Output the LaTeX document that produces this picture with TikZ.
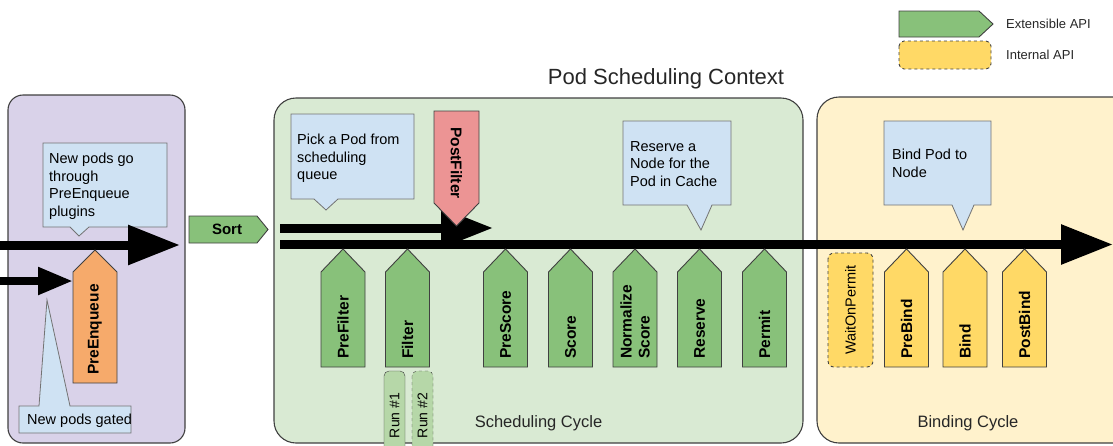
\documentclass[tikz,border=0pt]{standalone}
\usepackage{fontspec}
\setmainfont{Liberation Sans}
\usetikzlibrary{arrows.meta}
\definecolor{purplebg}{HTML}{D9D2E9}
\definecolor{greenbg}{HTML}{D9EAD3}
\definecolor{yellowbg}{HTML}{FFF2CC}
\definecolor{extgreen}{HTML}{88C17A}
\definecolor{intyellow}{HTML}{FFD966}
\definecolor{notebg}{HTML}{CFE2F3}
\definecolor{enqorange}{HTML}{F6AA6B}
\definecolor{postred}{HTML}{EC9494}
\definecolor{rungreen}{HTML}{B6D7A8}
\definecolor{edge}{HTML}{404040}

\begin{document}
\begin{tikzpicture}[x=1pt,y=-1pt,
    flow/.style={line width=9pt,-{Triangle[length=52pt,width=38pt]}},%
    smallflow/.style={line width=8pt,-{Triangle[length=35pt,width=26pt]}},%
    stage/.style={draw=edge,line width=1.1pt,rounded corners=22pt},%
    ext/.style={draw=edge,fill=extgreen,line width=0.9pt},%
    int/.style={draw=edge,fill=intyellow,line width=0.9pt},%
    callout/.style={draw=black!55,fill=notebg,line width=0.8pt},%
    note/.style={inner sep=0pt,align=left,anchor=north west,
      font=\fontsize{14.5}{17.5}\selectfont},%
    plug/.style={inner sep=0pt,rotate=90,anchor=west,align=left,
      font=\fontsize{15.5}{18}\selectfont\bfseries},%
    cycle/.style={font=\fontsize{16.5}{19}\selectfont,text=black!85}%
  ]
  \clip (0,0) rectangle (1113,445);
  \useasboundingbox (0,0) rectangle (1113,445);
  %% stages
  \draw[stage,fill=purplebg,rounded corners=15pt] (8,95) rectangle (185,443);
  \draw[stage,fill=greenbg] (274,98) rectangle (803,443);
  \draw[stage,fill=yellowbg] (817,97) rectangle (1140,443);
  \node[font=\fontsize{22}{26}\selectfont,text=black!85] (title) at (666,79)
  {Pod Scheduling Context};
  %% legend
  \draw[ext] (899,11) -- (979,11) -- (993,24) -- (979,37) -- (899,37) -- cycle;
  \draw[int,dashed,rounded corners=5pt] (899,41) rectangle (991,69);
  \node[anchor=west,inner sep=0pt,font=\fontsize{13}{15}\selectfont,text=black!85]
  (extapi) at (1006,24) {Extensible API};
  \node[anchor=west,inner sep=0pt,font=\fontsize{13}{15}\selectfont,text=black!85]
  (intapi) at (1006,55) {Internal API};
  %% callouts
  \draw[callout] (43,143) -- (167,143) -- (167,227) -- (89,227) -- (79,236)
  -- (70,227) -- (43,227) -- cycle;
  \node[note] (enqnote) at (49,153) {New pods go\\through\\PreEnqueue\\plugins};
  \draw[callout] (19,406) -- (39,406) -- (47,300) -- (70,406) -- (131,406)
  -- (131,433) -- (19,433) -- cycle;
  \node[note] (gatenote) at (27,414) {New pods gated};
  \draw[callout] (291,114) -- (414,114) -- (414,199) -- (338,199) -- (326,210)
  -- (314,199) -- (291,199) -- cycle;
  \node[note] (picknote) at (297,134) {Pick a Pod from\\scheduling\\queue};
  \draw[callout] (623,121) -- (731,121) -- (731,205) -- (712,205) -- (701,230)
  -- (687,205) -- (623,205) -- cycle;
  \node[note] (resnote) at (630,141) {Reserve a\\Node for the\\Pod in Cache};
  \draw[callout] (884,121) -- (991,121) -- (991,205) -- (974,205) -- (963,230)
  -- (952,205) -- (884,205) -- cycle;
  \node[note] (bindnote) at (892,149) {Bind Pod to\\Node};
  %% flows
  \coordinate (inA) at (0,245);
  \coordinate (inB) at (180,245);
  \coordinate (gateA) at (0,281);
  \coordinate (gateB) at (73,281);
  \coordinate (retryA) at (280,228);
  \coordinate (retryB) at (493,228);
  \coordinate (mainA) at (280,244.5);
  \coordinate (mainB) at (1113,244.5);
  \draw[flow] (inA) -- (inB);
  \draw[smallflow] (gateA) -- (gateB);
  \draw[flow] (retryA) -- (retryB);
  \draw[flow] (mainA) -- (mainB);
  %% PreEnqueue and Sort
  \draw[ext,fill=enqorange] (73,383) -- (73,272) -- (95,250) -- (117,272)
  -- (117,383) -- cycle;
  \node[plug] (preenq) at (95,375) {PreEnqueue};
  \draw[ext] (189,216) -- (257,216) -- (268,229.5) -- (257,243) -- (189,243)
  -- cycle;
  \node[font=\fontsize{15}{18}\selectfont\bfseries] (sort) at (227,229.5) {Sort};
  %% PostFilter
  \draw[ext,fill=postred] (434,111) -- (479,111) -- (479,203) -- (456.5,226)
  -- (434,203) -- cycle;
  \node[plug,rotate=180] (postfilter) at (456.5,127) {PostFilter};
  %% extension points
  \foreach \name/\x/\txt/\sty in
  {prefilter/343/PreFilter/ext,filter/407.5/Filter/ext,
    prescore/505.5/PreScore/ext,score/570.5/Score/ext,
    normscore/635/{Normalize\\Score}/ext,reserve/699.5/Reserve/ext,
    permit/764.5/Permit/ext,prebind/906.5/PreBind/int,
    bind/965/Bind/int,postbind/1024.5/PostBind/int} {%
    \draw[\sty] (\x-22,367) -- (\x-22,272) -- (\x,249) -- (\x+22,272)
    -- (\x+22,367) -- cycle;%
    \node[plug] (\name) at (\x,359) {\txt};%
  }%
  \node[int,dashed,rounded corners=6pt,rotate=90,minimum width=114pt,
  minimum height=45pt,inner sep=0pt,font=\fontsize{14.5}{17}\selectfont]
  (waitperm) at (850.5,310) {WaitOnPermit};
  %% filter runs
  \node[draw=edge,fill=rungreen,rounded corners=5pt,rotate=90,minimum width=89pt,
  minimum height=21pt,inner sep=0pt,font=\fontsize{14}{16}\selectfont]
  (run1) at (394.5,415.5) {Run \#1};
  \node[draw=edge,dashed,fill=rungreen,rounded corners=5pt,rotate=90,
  minimum width=89pt,minimum height=21pt,inner sep=0pt,
  font=\fontsize{14}{16}\selectfont] (run2) at (422.5,415.5) {Run \#2};
  %% cycles
  \node[cycle] (schedcycle) at (538.5,423) {Scheduling Cycle};
  \node[cycle] (bindcycle) at (968,423) {Binding Cycle};
\end{tikzpicture}
\end{document}
